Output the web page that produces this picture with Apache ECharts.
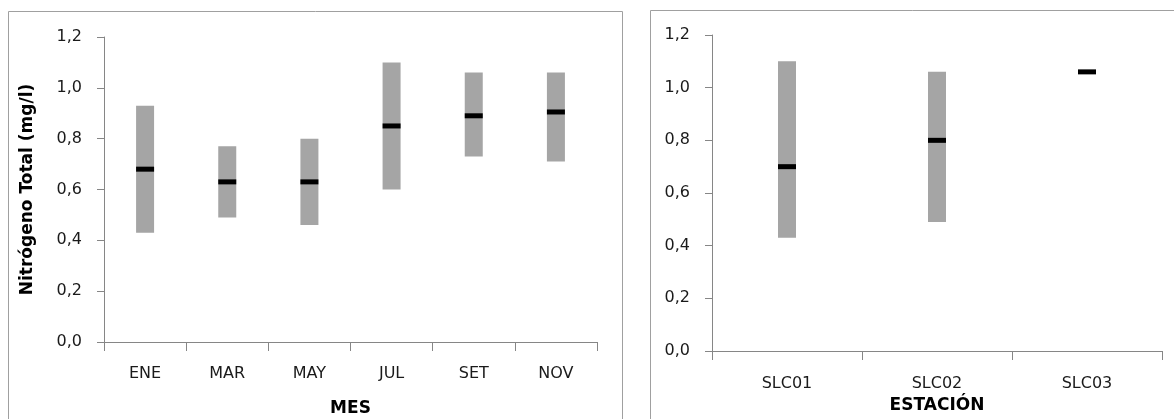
<!DOCTYPE html>
<html>
<head>
<meta charset="utf-8">
<script src="https://cdn.jsdelivr.net/npm/echarts@6/dist/echarts.min.js"></script>
<style>
  html, body { margin: 0; padding: 0; background: #fff; }
  #chart { width: 1174px; height: 419px; }
</style>
</head>
<body>
<div id="chart"></div>
<script>
// Total nitrogen (mg/l): range (min–max) and median by month and by station
const months = ['ENE', 'MAR', 'MAY', 'JUL', 'SET', 'NOV'];
const monthMin = [0.43, 0.49, 0.46, 0.60, 0.73, 0.71];
const monthMax = [0.93, 0.77, 0.80, 1.10, 1.06, 1.06];
const monthMedian = [0.68, 0.63, 0.63, 0.85, 0.89, 0.905];

const stations = ['SLC01', 'SLC02', 'SLC03'];
const stationMin = [0.43, 0.49, 1.06];
const stationMax = [1.10, 1.06, 1.06];
const stationMedian = [0.70, 0.80, 1.06];

const yTicks = [0, 0.2, 0.4, 0.6, 0.8, 1.0, 1.2];

const FONT = '"DejaVu Sans", sans-serif';
const AXIS_GREY = '#868686';
const BAR_GREY = '#a5a5a5';
const TEXT = '#1a1a1a';

function fmt(v) { return v.toFixed(1).replace('.', ','); }

// grey min–max band, drawn through the axis scales
function rangeSeries(gridIdx, mins, maxs) {
  return {
    type: 'custom',
    xAxisIndex: gridIdx, yAxisIndex: gridIdx,
    data: mins.map((m, i) => [i, m, maxs[i]]),
    encode: { x: 0, y: [1, 2] },
    renderItem(params, api) {
      const lo = api.coord([api.value(0), api.value(1)]);
      const hi = api.coord([api.value(0), api.value(2)]);
      const w = 18;
      return {
        type: 'rect',
        shape: { x: lo[0] - w / 2, y: hi[1], width: w, height: lo[1] - hi[1] },
        style: { fill: BAR_GREY }
      };
    }
  };
}

// black dash at the median
function medianSeries(gridIdx, meds) {
  return {
    type: 'scatter',
    xAxisIndex: gridIdx, yAxisIndex: gridIdx,
    data: meds.map((m, i) => [i, m]),
    symbol: 'rect',
    symbolSize: [18, 5],
    itemStyle: { color: '#000', opacity: 1 },
    z: 5
  };
}

function yAxisCfg(gridIdx, name, nameGap) {
  return {
    type: 'value', gridIndex: gridIdx,
    min: 0, max: 1.2, interval: 0.2,
    name: name, nameLocation: 'middle', nameGap: nameGap,
    nameTextStyle: { fontFamily: FONT, fontWeight: 'bold', fontSize: 17, color: '#000' },
    axisLine: { show: true, lineStyle: { color: AXIS_GREY, width: 1 } },
    axisTick: { show: true, inside: false, length: 7, lineStyle: { color: AXIS_GREY } },
    splitLine: { show: false },
    axisLabel: {
      margin: 22, fontFamily: FONT, fontSize: 16, color: TEXT,
      formatter: v => fmt(v),
      customValues: yTicks
    }
  };
}

function xAxisCfg(gridIdx, cats, name, nameGap, labelMargin) {
  return {
    type: 'category', gridIndex: gridIdx, data: cats,
    boundaryGap: true,
    name: name, nameLocation: 'middle', nameGap: nameGap,
    nameTextStyle: { fontFamily: FONT, fontWeight: 'bold', fontSize: 17, color: '#000' },
    axisLine: { show: true, lineStyle: { color: AXIS_GREY, width: 1 } },
    axisTick: { show: true, inside: false, length: 9, alignWithLabel: false, lineStyle: { color: AXIS_GREY } },
    axisLabel: { margin: labelMargin, fontFamily: FONT, fontSize: 16, color: TEXT, interval: 0 }
  };
}

const chart = echarts.init(document.getElementById('chart'), null, { renderer: 'canvas' });
chart.setOption({
  animation: false,
  backgroundColor: '#fff',
  graphic: [
    { type: 'rect', shape: { x: 8.5, y: 11.5, width: 614, height: 420 },
      style: { fill: 'none', stroke: '#a0a0a0', lineWidth: 1 }, silent: true },
    { type: 'rect', shape: { x: 650.5, y: 10.5, width: 540, height: 420 },
      style: { fill: 'none', stroke: '#a0a0a0', lineWidth: 1 }, silent: true }
  ],
  grid: [
    { left: 104, top: 37, width: 493, height: 305, outerBoundsMode: 'none', containLabel: false },
    { left: 712, top: 35, width: 450, height: 316, outerBoundsMode: 'none', containLabel: false }
  ],
  xAxis: [
    xAxisCfg(0, months, 'MES', 58, 24),
    xAxisCfg(1, stations, 'ESTACIÓN', 46, 25)
  ],
  yAxis: [
    yAxisCfg(0, 'Nitrógeno Total (mg/l)', 68),
    yAxisCfg(1, '', 40)
  ],
  series: [
    rangeSeries(0, monthMin, monthMax),
    medianSeries(0, monthMedian),
    rangeSeries(1, stationMin, stationMax),
    medianSeries(1, stationMedian)
  ]
});
</script>
</body>
</html>
